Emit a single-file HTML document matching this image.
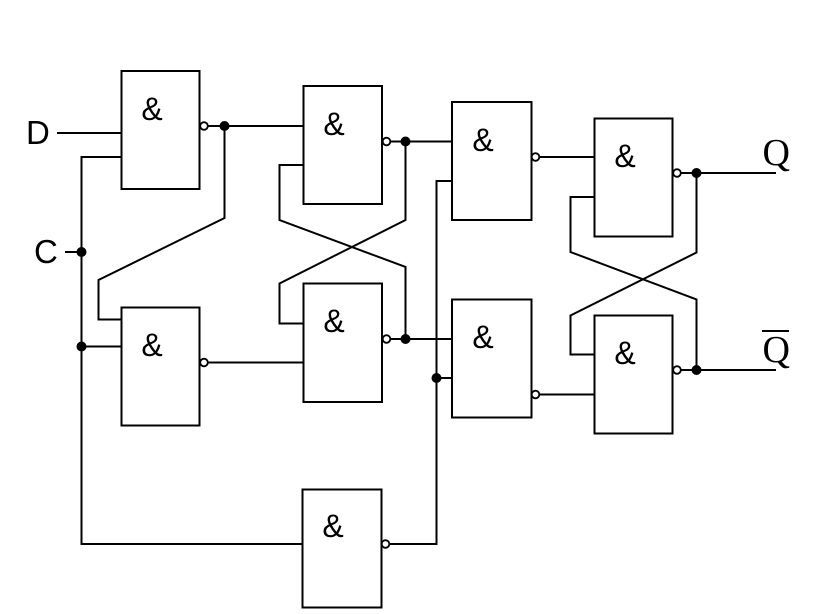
<!DOCTYPE html>
<html><head><meta charset="utf-8"><style>html,body{margin:0;padding:0;background:#fff}svg{display:block}</style></head>
<body><svg width="814" height="614" viewBox="0 0 814 614" xmlns="http://www.w3.org/2000/svg">
<g fill="#fff" stroke="#000" stroke-width="2">
<rect x="121.500" y="71" width="78" height="118"/>
<rect x="303.500" y="86" width="78.500" height="118"/>
<rect x="452" y="102" width="79.500" height="118"/>
<rect x="594.500" y="118.500" width="78" height="118"/>
<rect x="121.500" y="307.500" width="78" height="118"/>
<rect x="303.500" y="283.500" width="78.500" height="118.500"/>
<rect x="452" y="299.500" width="79.500" height="118"/>
<rect x="594.500" y="315.500" width="78" height="118"/>
<rect x="302.500" y="489.500" width="79" height="118"/>
</g>
<g fill="none" stroke="#000" stroke-width="2">
<path d="M57 133H121.500"/>
<path d="M121.500 157H81.500V544H302.500"/>
<path d="M65 252H81.500"/>
<path d="M81.500 346.500H121.500"/>
<path d="M208 126H303.500"/>
<path d="M224.500 126V218L98.500 280V319.500H121.500"/>
<path d="M208 362.500H303.500"/>
<path d="M303.500 165H279.500V220L405.500 267V339"/>
<path d="M303.500 323.500H279.500V283.500L405.500 220V141"/>
<path d="M390 141.500H452"/>
<path d="M390 339H452"/>
<path d="M452 181H436.500V544H385"/>
<path d="M436.500 378H452"/>
<path d="M539 157H594.500"/>
<path d="M539 394.500H594.500"/>
<path d="M594.500 197H570.500V252L696.500 299.500V370"/>
<path d="M594.500 354.500H570.500V315.500L696.500 252.500V173"/>
<path d="M681 173H776"/>
<path d="M681 370H776"/>
<path d="M762 331H789"/>
</g>
<g fill="#000">
<circle cx="81.500" cy="252" r="5"/>
<circle cx="81.500" cy="346.500" r="5"/>
<circle cx="224.500" cy="126" r="5"/>
<circle cx="405.500" cy="141.500" r="5"/>
<circle cx="405.500" cy="339" r="5"/>
<circle cx="436.500" cy="378" r="5"/>
<circle cx="696.500" cy="173" r="5"/>
<circle cx="696.500" cy="370" r="5"/>
</g>
<g fill="#fff" stroke="#000" stroke-width="1.800">
<circle cx="204" cy="126" r="3.800"/>
<circle cx="386.500" cy="141.500" r="3.800"/>
<circle cx="535.500" cy="157" r="3.800"/>
<circle cx="677" cy="173" r="3.800"/>
<circle cx="204" cy="362.500" r="3.800"/>
<circle cx="386.500" cy="339" r="3.800"/>
<circle cx="535.500" cy="394.500" r="3.800"/>
<circle cx="677" cy="370" r="3.800"/>
<circle cx="385.500" cy="544" r="3.800"/>
</g>
<g font-family="'Liberation Sans',sans-serif" font-size="32" fill="#000" text-anchor="middle">
<text x="152" y="120">&amp;</text>
<text x="334" y="135">&amp;</text>
<text x="483" y="151">&amp;</text>
<text x="625" y="167">&amp;</text>
<text x="152" y="356">&amp;</text>
<text x="334" y="332">&amp;</text>
<text x="483" y="348">&amp;</text>
<text x="625" y="364">&amp;</text>
<text x="333" y="537">&amp;</text>
</g>
<g font-family="'Liberation Sans',sans-serif" font-size="33" fill="#000">
<text x="26" y="144">D</text>
<text x="34" y="263">C</text>
</g>
<g font-family="'Liberation Serif',serif" font-size="38" fill="#000">
<text x="762.500" y="165">Q</text>
<text x="762.500" y="362">Q</text>
</g>
</svg></body></html>
